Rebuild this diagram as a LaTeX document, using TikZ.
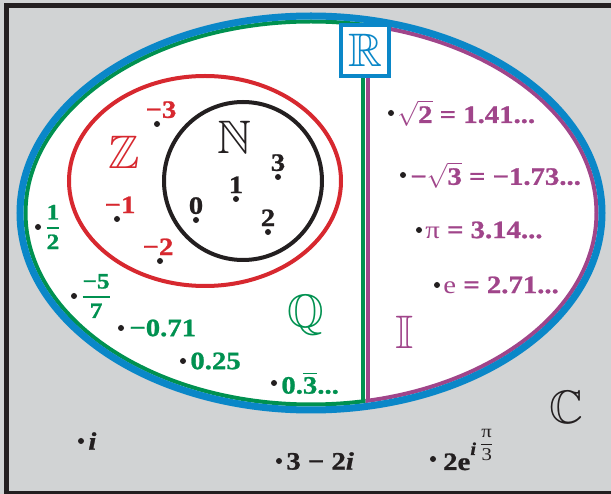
\documentclass[tikz,border=0pt]{standalone}
\usepackage{amsmath}
\usepackage{amssymb}
\usepackage{fontspec}
\setmainfont[FakeStretch=1.15, BoldFeatures={FakeBold=1}, BoldItalicFeatures={FakeBold=1}]{Liberation Serif}
\usetikzlibrary{positioning}
\definecolor{setblue}{HTML}{0A87C8}
\definecolor{qgreen}{HTML}{009150}
\definecolor{zred}{HTML}{D7282F}
\definecolor{ipurple}{HTML}{A0458A}
\definecolor{cgray}{HTML}{D1D3D4}
\definecolor{framec}{HTML}{231F20}
\tikzset{
  pnt/.style={circle, fill=framec, inner sep=0pt, minimum size=6pt},
  num/.style={font=\fontsize{25}{25}\selectfont\bfseries, inner sep=1pt},
  fr/.style={font=\fontsize{22}{22}\selectfont\bfseries, inner sep=1pt},
  bb/.style={font=\fontsize{47}{47}\selectfont, inner sep=0pt},
  setline/.style={line width=4pt},
}
\newcommand{\sqt}[1]{\(\sqrt{\text{#1}}\)}

\begin{document}
\begin{tikzpicture}[x=1pt, y=-1pt]
  \useasboundingbox (0,0) rectangle (611,494);
  \clip (0,0) rectangle (611,494);
  \fill[cgray] (0,0) rectangle (611,494);
  \draw[framec, line width=5pt] (6.5,5.5) rectangle (630,493.5);
  % real numbers: Q on the left, I on the right
  \fill[white] (311,213) ellipse [x radius=291, y radius=197];
  \begin{scope}
    \clip (0,0) rectangle (365.5,494);
    \draw[qgreen, setline] (311,213) ellipse [x radius=285.5, y radius=191.5];
  \end{scope}
  \begin{scope}
    \clip (365.5,0) rectangle (611,494);
    \draw[ipurple, setline] (311,213) ellipse [x radius=285.5, y radius=191.5];
  \end{scope}
  \draw[qgreen, setline] (363,60) -- (363,402);
  \draw[ipurple, setline] (368,60) -- (368,401);
  \draw[setblue, line width=7pt] (311,213) ellipse [x radius=291, y radius=197];
  \node[bb, draw=setblue, line width=4pt, fill=white, minimum width=48pt,
        minimum height=51pt, text=setblue] (rbox) at (365,50.5) {$\mathbb{R}$};
  % Z and N
  \draw[zred, setline] (205,181) ellipse [x radius=136, y radius=105];
  \draw[framec, line width=4pt] (243,181) circle [radius=79];
  \node[bb, text=framec] (nat) at (234,137) {$\mathbb{N}$};
  \node[bb, text=zred] (int) at (124,152) {$\mathbb{Z}$};
  \node[bb, text=qgreen] (rat) at (306,315) {$\mathbb{Q}$};
  \node[bb, text=ipurple] (irr) at (405,332) {$\mathbb{I}$};
  \node[bb, text=framec] (cpx) at (566,407) {$\mathbb{C}$};
  \foreach \i/\x/\y in {0/196/220, 1/236/199, 2/268/232, 3/278/177}{
    \node[pnt] (n\i) at (\x,\y) {};
    \node[num, text=framec, above=1.5pt of n\i] (nl\i) {\i};}
  \foreach \i/\x/\y/\dx in {3/157/124/4, 1/117/219/3, 2/160/261/-2}{
    \node[pnt] (z\i) at (\x,\y) {};
    \node[num, text=zred, above=1.5pt of z\i, xshift=\dx pt] (zl\i) {−\i};}
  % Q
  \node[pnt] (q1) at (38,227) {};
  \node[fr, text=qgreen, right=3pt of q1] (ql1)
       {\(\genfrac{}{}{1.8pt}{0}{\text{1}}{\text{2}}\)};
  \node[pnt] (q2) at (74,296) {};
  \node[fr, text=qgreen, right=3pt of q2] (ql2)
       {\(\genfrac{}{}{1.8pt}{0}{\text{−5}}{\text{7}}\)};
  \node[pnt] (q3) at (121,328) {};
  \node[num, text=qgreen, right=4pt of q3] (ql3) {−0.71};
  \node[pnt] (q4) at (183,361) {};
  \node[num, text=qgreen, right=3pt of q4] (ql4) {0.25};
  \node[pnt] (q5) at (274,383) {};
  \node[num, text=qgreen, right=3pt of q5] (ql5) {0.\(\overline{\text{3}}\)...};
  % I
  \node[pnt] (i1) at (391,113) {};
  \node[num, text=ipurple, right=2pt of i1] (il1) {\sqt{2} = 1.41...};
  \node[pnt] (i2) at (403,175) {};
  \node[num, text=ipurple, right=3pt of i2] (il2) {−\sqt{3} = −1.73...};
  \node[pnt] (i3) at (419,230) {};
  \node[num, text=ipurple, right=2pt of i3] (il3) {{\mdseries π} = 3.14...};
  \node[pnt] (i4) at (437,285) {};
  \node[num, text=ipurple, right=2pt of i4] (il4) {{\mdseries e} = 2.71...};
  % C
  \node[pnt] (c1) at (81,441) {};
  \node[num, text=framec, right=3pt of c1] (cl1) {\itshape i};
  \node[pnt] (c2) at (279,461) {};
  \node[num, text=framec, right=3pt of c2] (cl2) {3 − 2{\itshape i}};
  \node[pnt] (c3) at (433,459) {};
  \node[num, text=framec, anchor=base west] (cl3) at (442,470)
       {2e\raisebox{15pt}{\fontsize{18}{18}\selectfont\itshape i}\,%
        \raisebox{21pt}{\fontsize{18}{18}\selectfont\mdseries
        \(\genfrac{}{}{0.8pt}{0}{\text{π}}{\text{3}}\)}};
\end{tikzpicture}
\end{document}
